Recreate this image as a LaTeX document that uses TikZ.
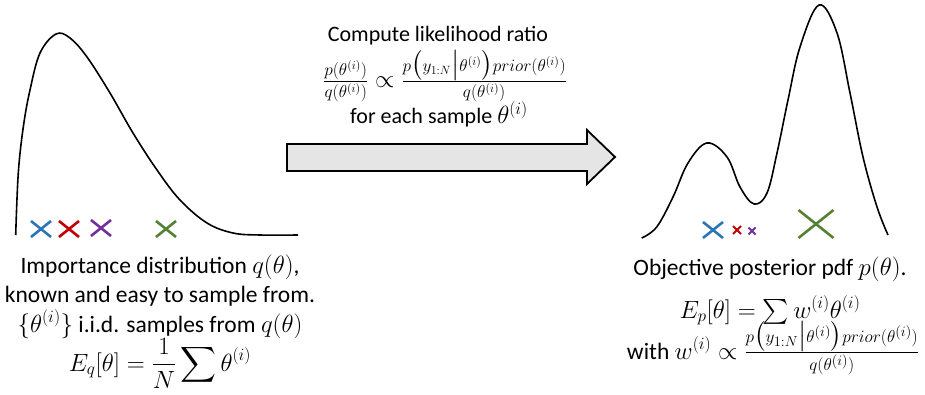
\documentclass[tikz,border=0pt]{standalone}
\usepackage{fontspec}
\setmainfont{Carlito}
\usepackage{amsmath}
\newcommand\bigmath[2]{{\fontsize{#1}{#1}\selectfont$#2$}}
\newcommand\midsum{\mathop{\mbox{\fontsize{33}{33}\selectfont$\sum$}}}
\begin{document}
\begin{tikzpicture}[x=1pt,y=-1pt,
  curve/.style={line width=1.6pt, black, line join=round},
  xmark/.style={line width=2.6pt},
  txt/.style={align=center, inner sep=0pt, anchor=base, font=\fontsize{23.5}{26}\selectfont},
  toptxt/.style={txt, font=\fontsize{22}{26}\selectfont},
  bigarrow/.style={draw=black, line width=1.8pt, fill=gray!20, line join=miter}]
\definecolor{xblue}{HTML}{2E75B6}
\definecolor{xred}{HTML}{C00000}
\definecolor{xpurple}{HTML}{7030A0}
\definecolor{xgreen}{HTML}{548235}
\useasboundingbox (0,0) rectangle (925,395);
% left density
\draw[curve] plot[smooth, tension=0.6] coordinates {
 (15.7,235) (18.3,173) (23.3,127) (30,90) (40,53) (56,34) (70,38) (87,57)
 (110,93) (133,133) (157,170) (180,200) (207,223) (233,233) (260,235) (298,235)};
% left samples
\draw[xmark, xblue]   (31,221) -- (51,237) (31,237) -- (51,221);
\draw[xmark, xred]    (59,221) -- (79,237) (59,237) -- (79,221);
\draw[xmark, xpurple] (91,220) -- (111,236) (91,236) -- (111,220);
\draw[xmark, xgreen]  (156,221) -- (176,237) (156,237) -- (176,221);
% right density
\draw[curve] plot[smooth, tension=0.6] coordinates {
 (641.7,238) (656.7,227) (673,197) (688,163) (707,143) (727,157) (740,187)
 (754,204) (767,193) (777,153) (788,100) (800,47) (819,5) (837,33) (850,93)
 (863,157) (877,207) (888,235)};
% right samples
\draw[xmark, xblue]   (703,222) -- (723,238) (703,238) -- (723,222);
\draw[xmark, xred, line width=2pt]    (733,226) -- (741,234) (733,234) -- (741,226);
\draw[xmark, xpurple, line width=2pt] (748.5,227.5) -- (755.5,234.5) (748.5,234.5) -- (755.5,227.5);
\draw[xmark, xgreen]  (798.5,210) -- (833.5,238) (798.5,238) -- (833.5,210);
% arrow
\draw[bigarrow] (287,144) -- (587,144) -- (587,130) -- (615,157) -- (587,184)
  -- (587,171) -- (287,171) -- cycle;
% texts
\node[toptxt] (ttl) at (438,42) {Compute likelihood ratio};
\node[toptxt] (teq) at (445,88) {\bigmath{26}{\frac{p(\theta^{(i)})}{q(\theta^{(i)})}\propto
  \frac{p\bigl(y_{1:N}\big|\theta^{(i)}\bigr)prior(\theta^{(i)})}{q(\theta^{(i)})}}};
\node[toptxt] (tfor) at (439,124) {for each sample \bigmath{25}{\theta^{(i)}}};

\node[txt] (l1) at (160,273) {Importance distribution $q(\theta)$,};
\node[txt] (l2) at (160,302) {known and easy to sample from.};
\node[txt] (l3) at (160,332) {$\{\theta^{(i)}\}$ i.i.d. samples from $q(\theta)$};
\node[txt] (l4) at (160,371) {$\displaystyle E_q[\theta]=\frac{1}{N}\sum\theta^{(i)}$};

\node[txt] (r1) at (770,275) {Objective posterior pdf $p(\theta)$.};
\node[txt] (r2) at (770,318) {\bigmath{27}{E_p[\theta]=\midsum w^{(i)}\theta^{(i)}}};
\node[txt] (r3) at (773,359) {with \bigmath{27}{w^{(i)}\propto
  \frac{p\bigl(y_{1:N}\big|\theta^{(i)}\bigr)prior(\theta^{(i)})}{q(\theta^{(i)})}}};
\end{tikzpicture}
\end{document}
